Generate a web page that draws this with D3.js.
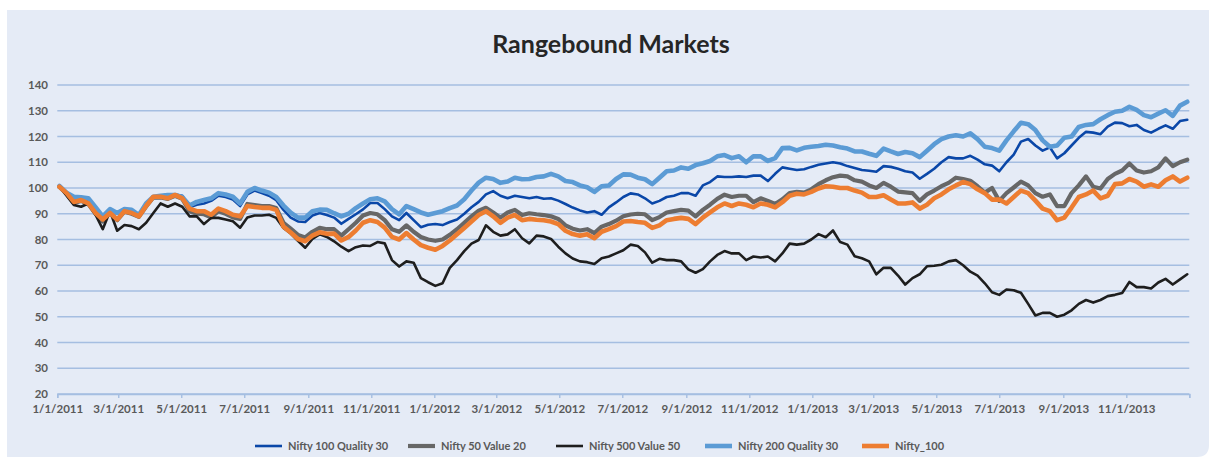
<!DOCTYPE html>
<html>
<head>
<meta charset="utf-8">
<script src="https://cdn.jsdelivr.net/npm/d3@7"></script>
<style>
  html, body { margin: 0; padding: 0; background: #ffffff; }
  svg { display: block; }
  text { font-family: Lato, "Open Sans", sans-serif; }
</style>
</head>
<body>
<svg id="chart" width="1210" height="459"></svg>
<script>
// ---------------- DATA ----------------
const title = "Rangebound Markets";
const firstWeek = "2011-01-03";   // weekly observations, one every 7 days
const yTicks = [20, 30, 40, 50, 60, 70, 80, 90, 100, 110, 120, 130, 140];
const xTickDates = ["2011-01-01","2011-03-01","2011-05-01","2011-07-01","2011-09-01","2011-11-01",
  "2012-01-01","2012-03-01","2012-05-01","2012-07-01","2012-09-01","2012-11-01",
  "2013-01-01","2013-03-01","2013-05-01","2013-07-01","2013-09-01","2013-11-01"];
const seriesNames = ["Nifty 100 Quality 30", "Nifty 50 Value 20", "Nifty 500 Value 50", "Nifty 200 Quality 30", "Nifty_100"];

const nifty100Quality30 = [101,98,96,95.8,95.5,92,88.5,91.5,90,91.5,
  91.2,89.3,93.5,96.5,97,97.5,97.5,97,92.5,93.5,
  94,95,97,96.5,95.5,93,97.5,99,98,97,
  95.3,91.5,88.5,87,86.8,89.3,90.3,89.5,88.5,86.1,
  88,89.8,91.7,94.2,94.2,91.8,89,87.5,90.3,87.5,
  84.8,85.7,86,85.6,86.8,87.8,90,92.5,94.6,97.5,
  98.8,97,96,97,96.5,96,96.5,95.8,96,95.1,
  93.8,92.4,91.3,90.5,91,89.6,92.5,94.4,96.5,97.9,
  97.5,96,94,95,96.5,97,98,98,97,101,
  102.3,104.5,104.3,104.3,104.5,104.3,104.8,104.8,102.7,105.5,
  108,107.5,107,107.3,108.2,109,109.5,110,109.5,108.5,
  107.8,107,106.7,106.3,108.5,108.2,107.5,106.5,106,103.6,
  105.5,107.5,110,112,111.5,111.5,112.5,111,109.2,108.7,
  106.5,110,113,118,119,116.5,114.5,115.8,111.5,113.5,
  116.5,119.5,121.8,121.5,120.9,123.8,125.4,125.2,124,124.5,
  122.5,121.5,123,124.3,123,126,126.5];

const nifty50Value20 = [100.5,97.8,94.2,95,93.8,90,87,90.5,87.5,90.8,
  90,88.8,92.8,96.3,96.3,95.8,97,95.8,91,90,
  89.8,88.6,91,90,88.6,88,93.8,93.4,93,93,
  92.2,86.5,84.2,81.8,80.8,83,84.5,84,84,81.5,
  84,86.5,89.3,90.3,89.8,87.5,84,83,85.5,83,
  81,80,79.5,80,81.8,84,86.5,89,91.2,92.3,
  90.5,88.5,90.5,91.5,89.5,90.2,89.8,89.5,89,88,
  85.5,84.2,83.5,84,82.5,85,86,87.3,89,89.7,
  90,89.8,87.5,88.7,90.5,91,91.5,91.2,89,91.5,
  93.5,95.8,97.4,96.5,97,97,94.5,96,95,93.8,
  95.6,98,98.5,98.2,99.5,101.5,103,104.2,104.8,104.5,
  103,102.5,101,100,102,100.5,98.6,98.3,98,95,
  97.5,99,100.7,102,104,103.5,102.8,100.7,98.2,100,
  95,98,100.2,102.5,101,98,96.6,97.5,93,93,
  98,101,104.5,100.5,99.8,103.5,105.5,106.8,109.5,106.8,
  106,106.5,108,111.5,108.5,110,111];

const nifty500Value50 = [100.5,97,93.4,92.7,94,89.6,84,91,83.4,85.6,
  85.2,84,86.5,90.3,94,92.7,94,92.7,89,89,
  86,88.4,88.4,87.8,87.1,84.6,88.5,89.3,89.3,89.6,
  88.4,84.5,82.3,79.5,76.8,80.2,82,81,79.3,77.2,
  75.5,77,77.7,77.5,79,78.5,72,69.5,71.5,71,
  65,63.4,62,63,69,72,75.5,78.4,79.8,85.5,
  83,81.5,82,84,80.5,78.5,81.5,81.2,80.2,77.2,
  74.6,72.6,71.5,71.2,70.5,72.7,73.4,74.6,75.8,78,
  77.5,75,71,72.5,72,72,71.5,68.4,67.1,68.5,
  71.5,74,75.5,74.6,74.6,72,73.4,73,73.4,71.5,
  74.6,78.4,78,78.4,80,82.1,80.9,83.5,79,78,
  73.5,72.7,71.5,66.5,69,69,66,62.5,65,66.5,
  69.6,69.8,70.2,71.5,72,70,67.5,66,63,59.5,
  58.5,60.6,60.3,59.3,55,50.5,51.5,51.5,50,50.8,
  52.5,55,56.5,55.5,56.5,58,58.5,59.2,63.5,61.5,
  61.5,61,63.3,64.7,62.5,64.5,66.5];

const nifty200Quality30 = [100.8,98.2,96.6,96.4,96,92.5,89,91.8,90.3,91.8,
  91.5,89.5,94,96.6,97,97.3,97.3,96.5,93.2,94.6,
  95.3,96,98,97.5,96.6,94,98.5,100,99,98.2,
  96.5,93.2,90.4,88.5,88.5,91,91.6,91.5,90.2,89,
  90,92.2,94,95.6,96,94.8,91.8,89.8,93,91.8,
  90.5,89.6,90.3,91,92.2,93.2,95.6,99,102.1,104,
  103.5,102,102.5,104,103.4,103.5,104.3,104.5,105.5,104.5,
  102.7,102.3,101,100.3,98.5,100.7,101,103.5,105.3,105.2,
  104,103.4,101.5,104,106.5,106.8,108,107.5,108.9,109.6,
  110.5,112.3,112.8,111.6,112.3,110,112.3,112.3,110.5,111.6,
  115.5,115.6,114.6,115.6,116,116.3,116.8,116.5,115.8,115.3,
  114.2,114.2,113.3,112.5,115.3,114.2,113.2,114,113.5,112,
  114.5,117,119,120,120.5,120,121.2,119,116,115.5,
  114.5,118.5,122,125.3,124.8,122.5,118.5,116,116.5,119.5,
  120,123.7,124.5,124.8,126.7,128.3,129.6,130,131.5,130.3,
  128.3,127.5,128.9,130.2,128,132,133.5];

const nifty100 = [100.5,98,94.6,95.3,94,90.3,87.8,90.3,87.8,91,
  90.3,89,93,96.6,96.6,96,97.3,96,92,91,
  91,89.6,92,91,89.6,89,93,92.6,92.3,92.3,
  91.5,85,82.7,80.2,79.3,81.5,82.8,82.2,82.3,79.6,
  81,83.5,86.5,87.5,86.8,84.6,81,80,82.5,80,
  77.8,76.8,76,77.5,79.6,82,84.5,87,89.5,91,
  89,86.5,88.5,89.5,87.5,88,87.7,87.5,87,86,
  83.4,82.1,81.5,82,80.5,83,84,85.2,87,87.2,
  86.8,86.5,84.5,85.5,87.5,88,88.4,88,86,88.5,
  90.5,92.5,94,93,94,93.5,92.5,94,93.5,92.5,
  94.5,97,97.8,97.5,98.5,99.8,100.7,100.5,100,100,
  99,98.2,96.5,96.5,97.2,95.5,94,94,94.4,92,
  93.5,96,97.5,99.5,101,102.3,101.5,99.5,98,95.5,
  95.5,94,96.5,99,98,95.1,92,91,87.5,88.5,
  92.4,96.5,97.5,99,96,97,101.5,101.8,103.5,102.5,
  100.5,101.4,100.5,103,104.5,102.5,104];

// ---------------- STYLE ----------------
const colors = ["#0a47a8", "#676767", "#1e1e1e", "#5b9bd5", "#ed7d31"];
const widths = [2.6, 4.2, 2.6, 4.6, 4.6];
const seriesValues = [nifty100Quality30, nifty50Value20, nifty500Value50, nifty200Quality30, nifty100];

const plot = { left: 57.3, right: 1189.3, top: 85, bottom: 394 };
const gridColor = "#a5bee1";
const labelColor = "#595959";

const svg = d3.select("#chart");
const parse = d3.utcParse("%Y-%m-%d");
const start = parse(firstWeek);
const dates = d3.range(nifty100.length).map(i => d3.utcDay.offset(start, 7 * i));

// panel background with rounded bottom-right corner
const px = 7, py = 10, pw = 1202, ph = 447, r = 12;
svg.append("path")
  .attr("d", `M${px},${py} H${px + pw} V${py + ph - r} Q${px + pw},${py + ph} ${px + pw - r},${py + ph} H${px} Z`)
  .attr("fill", "#e5ebf6");

const x = d3.scaleUtc()
  .domain([parse("2011-01-01"), parse("2014-01-01")])
  .range([plot.left, plot.right]);
const y = d3.scaleLinear().domain([20, 140]).range([plot.bottom, plot.top]);

// gridlines
svg.append("g").selectAll("line").data(yTicks).join("line")
  .attr("x1", plot.left).attr("x2", plot.right)
  .attr("y1", d => y(d)).attr("y2", d => y(d))
  .attr("stroke", gridColor).attr("stroke-width", 1.4);

// y labels
svg.append("g").selectAll("text").data(yTicks).join("text")
  .attr("x", 48).attr("y", d => y(d)).attr("dy", "0.35em")
  .attr("text-anchor", "end")
  .attr("font-size", 11.5).attr("font-weight", "bold")
  .attr("fill", labelColor)
  .text(d => d);

// x axis
const xTicks = xTickDates.map(parse);
const fmt = d => `${d.getUTCMonth() + 1}/${d.getUTCDate()}/${d.getUTCFullYear()}`;
const xAxis = d3.axisBottom(x)
  .tickValues(xTicks.concat([parse("2014-01-01")]))
  .tickSize(4).tickPadding(7)
  .tickFormat(d => d.getUTCFullYear() === 2014 ? "" : fmt(d));
const gx = svg.append("g").attr("transform", `translate(0,${plot.bottom})`).call(xAxis);
gx.select(".domain").attr("stroke", gridColor).attr("stroke-width", 1.4);
gx.selectAll(".tick line").attr("stroke", gridColor).attr("stroke-width", 1.4);
gx.selectAll(".tick text")
  .attr("font-family", "Lato, 'Open Sans', sans-serif")
  .attr("font-size", 11.5).attr("font-weight", "bold").attr("fill", labelColor);

// lines
const line = d3.line()
  .x((d, i) => x(dates[i]))
  .y(d => y(d))
  .curve(d3.curveLinear);

const gl = svg.append("g");
seriesValues.forEach((vals, s) => {
  gl.append("path")
    .datum(vals)
    .attr("d", line)
    .attr("fill", "none")
    .attr("stroke", colors[s])
    .attr("stroke-width", widths[s])
    .attr("stroke-linejoin", "round")
    .attr("stroke-linecap", "round");
});

// title
svg.append("text")
  .attr("x", 611).attr("y", 53)
  .attr("text-anchor", "middle")
  .attr("font-size", 25).attr("font-weight", "bold")
  .attr("fill", "#262626")
  .text(title);

// legend
const legendX = [255, 408, 556, 705, 862];
const legendY = 446;
const lg = svg.append("g");
seriesNames.forEach((name, s) => {
  lg.append("line")
    .attr("x1", legendX[s]).attr("x2", legendX[s] + 27)
    .attr("y1", legendY).attr("y2", legendY)
    .attr("stroke", colors[s]).attr("stroke-width", widths[s]);
  lg.append("text")
    .attr("x", legendX[s] + 33).attr("y", legendY).attr("dy", "0.35em")
    .attr("font-size", 11).attr("font-weight", "bold").attr("fill", labelColor)
    .text(name);
});
</script>
</body>
</html>
